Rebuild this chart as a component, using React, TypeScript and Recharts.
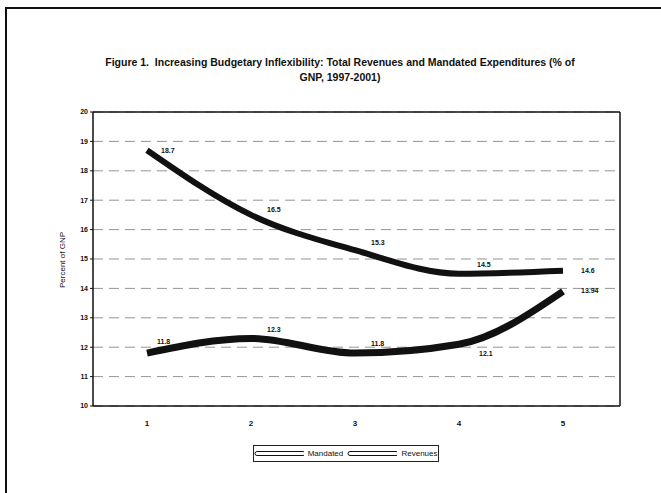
import { LineChart, Line, XAxis, YAxis, CartesianGrid, LabelList, Legend, ReferenceLine } from "recharts";

const years = ["1", "2", "3", "4", "5"];
const mandated = [18.7, 16.5, 15.3, 14.5, 14.6];
const revenues = [11.8, 12.3, 11.8, 12.1, 13.9];
const mandatedLabels = ["18.7", "16.5", "15.3", "14.5", "14.6"];
const revenueLabels = ["11.8", "12.3", "11.8", "12.1", "13.94"];
const yTicks = [10, 11, 12, 13, 14, 15, 16, 17, 18, 19, 20];

const data = years.map((year, i) => ({
  year,
  mandated: mandated[i],
  revenues: revenues[i],
  mLabel: mandatedLabels[i],
  rLabel: revenueLabels[i],
}));

const FONT = "'Liberation Sans', Arial, sans-serif";

function makeLabel(offsets: [number, number][]) {
  return (props: any) => {
    const { x, y, value, index } = props;
    const [dx, dy] = offsets[index] ?? [10, -4];
    return (
      <text x={x + dx} y={y + dy} fontSize={7} fontWeight="bold" fontFamily={FONT} fill="#111">
        {value}
      </text>
    );
  };
}

const mandatedOffsets: [number, number][] = [[14, 3], [16, -3], [16, -5], [18, -7], [18, 2]];
const revenueOffsets: [number, number][] = [[10, -9], [16, -6], [16, -7], [20, 12], [18, 2]];

function LegendBox() {
  const icon = (
    <svg width={52} height={8}>
      <rect x={1} y={1.5} width={50} height={4} rx={2} fill="#fff" stroke="#111" strokeWidth={1} />
    </svg>
  );
  return (
    <div
      style={{
        border: "1px solid #222",
        width: 184,
        height: 15,
        margin: "0 auto",
        display: "flex",
        alignItems: "center",
        justifyContent: "center",
        gap: 4,
        fontFamily: FONT,
        fontSize: 8,
        color: "#111",
        transform: "translateX(-5px)",
      }}
    >
      {icon}
      <span>Mandated</span>
      {icon}
      <span>Revenues</span>
    </div>
  );
}

export default function App() {
  return (
    <div style={{ position: "relative", width: 661, height: 493, background: "#fff" }}>
      <style>{`body{margin:0}`}</style>
      <div
        style={{
          position: "absolute",
          left: 5,
          top: 7,
          width: 700,
          height: 500,
          borderLeft: "2px solid #111",
          borderTop: "2px solid #111",
        }}
      />
      <div
        style={{
          position: "absolute",
          left: 60,
          top: 55,
          width: 560,
          textAlign: "center",
          fontFamily: FONT,
          fontSize: 10.5,
          fontWeight: "bold",
          lineHeight: "15px",
          color: "#111",
        }}
      >
        Figure 1.&nbsp; Increasing Budgetary Inflexibility: Total Revenues and Mandated Expenditures (% of
        <br />
        GNP, 1997-2001)
      </div>
      <div
        style={{
          position: "absolute",
          left: 62,
          top: 260,
          transform: "translate(-50%, -50%) rotate(-90deg)",
          fontFamily: FONT,
          fontSize: 8,
          color: "#111",
          whiteSpace: "nowrap",
        }}
      >
        Percent of GNP
      </div>
      <LineChart
        width={661}
        height={493}
        data={data}
        margin={{ top: 112, right: 0, left: 40, bottom: 30 }}
        style={{ position: "absolute", left: 0, top: 0 }}
      >
        <CartesianGrid
          yAxisId="left"
          horizontal
          vertical={false}
          stroke="#666"
          strokeDasharray="10 6"
          strokeWidth={0.7}
        />
        <XAxis
          dataKey="year"
          padding={{ left: 54, right: 57 }}
          axisLine={{ stroke: "#111", strokeWidth: 1.5 }}
          tickLine={false}
          tick={{ fontSize: 8, fontWeight: "bold", fontFamily: FONT, fill: "#111" }}
          tickMargin={8}
          height={30}
        />
        <YAxis
          yAxisId="left"
          domain={[10, 20]}
          ticks={yTicks}
          width={53}
          axisLine={{ stroke: "#111", strokeWidth: 1.5 }}
          tickLine={{ stroke: "#111" }}
          tickSize={3}
          tick={{ fontSize: 7, fontWeight: "bold", fontFamily: FONT, fill: "#111" }}
          interval={0}
        />
        <YAxis
          yAxisId="right"
          orientation="right"
          domain={[10, 20]}
          width={41}
          tick={false}
          tickLine={false}
          axisLine={{ stroke: "#111", strokeWidth: 1.5 }}
        />
        <ReferenceLine yAxisId="left" y={20} stroke="#111" strokeWidth={1.5} />
        <Legend content={<LegendBox />} verticalAlign="bottom" height={27} wrapperStyle={{ bottom: 21 }} />
        <Line
          yAxisId="left"
          type="monotone"
          dataKey="mandated"
          name="Mandated"
          stroke="#111"
          strokeWidth={6}
          dot={false}
          isAnimationActive={false}
        >
          <LabelList dataKey="mLabel" content={makeLabel(mandatedOffsets)} />
        </Line>
        <Line
          yAxisId="left"
          type="monotone"
          dataKey="revenues"
          name="Revenues"
          stroke="#111"
          strokeWidth={7}
          dot={false}
          isAnimationActive={false}
        >
          <LabelList dataKey="rLabel" content={makeLabel(revenueOffsets)} />
        </Line>
      </LineChart>
    </div>
  );
}
